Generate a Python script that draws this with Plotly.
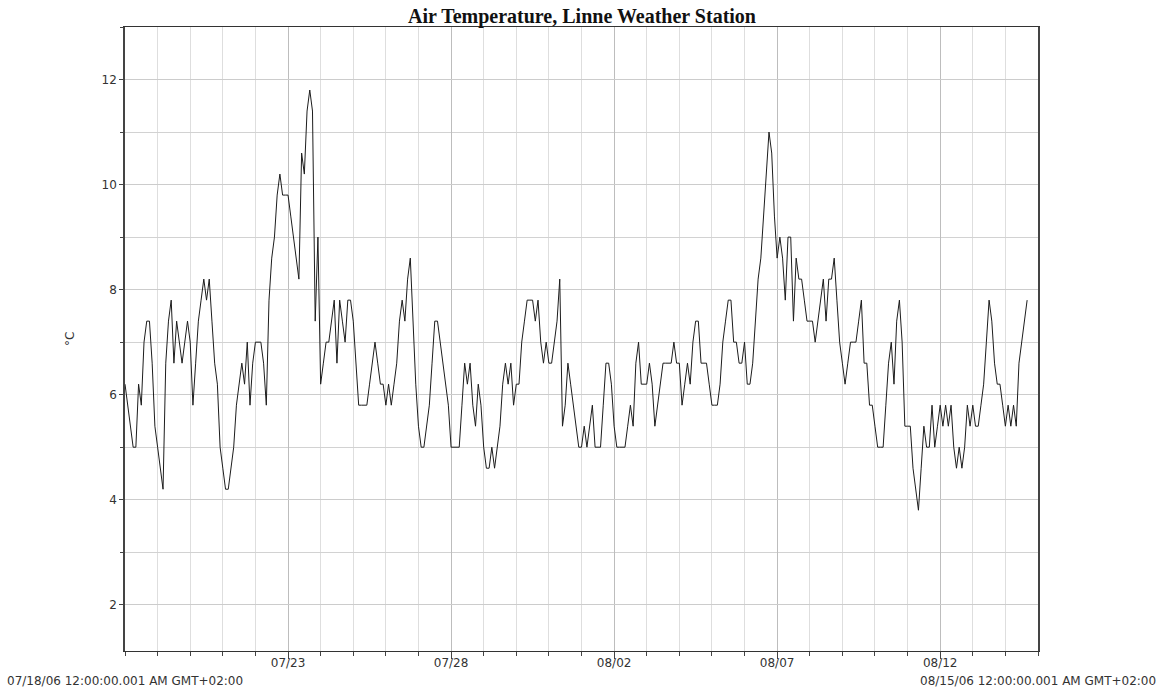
import pandas as pd
import plotly.graph_objects as go

START = "2006-07-18 00:00"
END = "2006-08-15 00:00"
STEP_HOURS = 2

# Air temperature (°C), one reading every two hours, one row per day
week1 = [
    6.2, 5.8, 5.4, 5.0, 5.0, 6.2, 5.8, 7.0, 7.4, 7.4, 6.6, 5.4,      # 07/18
    5.0, 4.6, 4.2, 6.6, 7.4, 7.8, 6.6, 7.4, 7.0, 6.6, 7.0, 7.4,      # 07/19
    7.0, 5.8, 6.6, 7.4, 7.8, 8.2, 7.8, 8.2, 7.4, 6.6, 6.2, 5.0,      # 07/20
    4.6, 4.2, 4.2, 4.6, 5.0, 5.8, 6.2, 6.6, 6.2, 7.0, 5.8, 6.6,      # 07/21
    7.0, 7.0, 7.0, 6.6, 5.8, 7.8, 8.6, 9.0, 9.8, 10.2, 9.8, 9.8,     # 07/22
    9.8, 9.4, 9.0, 8.6, 8.2, 10.6, 10.2, 11.4, 11.8, 11.4, 7.4, 9.0, # 07/23
    6.2, 6.6, 7.0, 7.0, 7.4, 7.8, 6.6, 7.8, 7.4, 7.0, 7.8, 7.8,      # 07/24
]
week2 = [
    7.4, 6.6, 5.8, 5.8, 5.8, 5.8, 6.2, 6.6, 7.0, 6.6, 6.2, 6.2,      # 07/25
    5.8, 6.2, 5.8, 6.2, 6.6, 7.4, 7.8, 7.4, 8.2, 8.6, 7.4, 6.2,      # 07/26
    5.4, 5.0, 5.0, 5.4, 5.8, 6.6, 7.4, 7.4, 7.0, 6.6, 6.2, 5.8,      # 07/27
    5.0, 5.0, 5.0, 5.0, 5.8, 6.6, 6.2, 6.6, 5.8, 5.4, 6.2, 5.8,      # 07/28
    5.0, 4.6, 4.6, 5.0, 4.6, 5.0, 5.4, 6.2, 6.6, 6.2, 6.6, 5.8,      # 07/29
    6.2, 6.2, 7.0, 7.4, 7.8, 7.8, 7.8, 7.4, 7.8, 7.0, 6.6, 7.0,      # 07/30
    6.6, 6.6, 7.0, 7.4, 8.2, 5.4, 5.8, 6.6, 6.2, 5.8, 5.4, 5.0,      # 07/31
]
week3 = [
    5.0, 5.4, 5.0, 5.4, 5.8, 5.0, 5.0, 5.0, 5.8, 6.6, 6.6, 6.2,      # 08/01
    5.4, 5.0, 5.0, 5.0, 5.0, 5.4, 5.8, 5.4, 6.6, 7.0, 6.2, 6.2,      # 08/02
    6.2, 6.6, 6.2, 5.4, 5.8, 6.2, 6.6, 6.6, 6.6, 6.6, 7.0, 6.6,      # 08/03
    6.6, 5.8, 6.2, 6.6, 6.2, 7.0, 7.4, 7.4, 6.6, 6.6, 6.6, 6.2,      # 08/04
    5.8, 5.8, 5.8, 6.2, 7.0, 7.4, 7.8, 7.8, 7.0, 7.0, 6.6, 6.6,      # 08/05
    7.0, 6.2, 6.2, 6.6, 7.4, 8.2, 8.6, 9.4, 10.2, 11.0, 10.6, 9.4,   # 08/06
    8.6, 9.0, 8.6, 7.8, 9.0, 9.0, 7.4, 8.6, 8.2, 8.2, 7.8, 7.4,      # 08/07
]
week4 = [
    7.4, 7.4, 7.0, 7.4, 7.8, 8.2, 7.4, 8.2, 8.2, 8.6, 7.8, 7.0,      # 08/08
    6.6, 6.2, 6.6, 7.0, 7.0, 7.0, 7.4, 7.8, 6.6, 6.6, 5.8, 5.8,      # 08/09
    5.4, 5.0, 5.0, 5.0, 5.8, 6.6, 7.0, 6.2, 7.4, 7.8, 7.0, 5.4,      # 08/10
    5.4, 5.4, 4.6, 4.2, 3.8, 4.6, 5.4, 5.0, 5.0, 5.8, 5.0, 5.4,      # 08/11
    5.8, 5.4, 5.8, 5.4, 5.8, 5.0, 4.6, 5.0, 4.6, 5.0, 5.8, 5.4,      # 08/12
    5.8, 5.4, 5.4, 5.8, 6.2, 7.0, 7.8, 7.4, 6.6, 6.2, 6.2, 5.8,      # 08/13
    5.4, 5.8, 5.4, 5.8, 5.4, 6.6, 7.0, 7.4, 7.8,                     # 08/14
]

label_days = ["2006-07-23", "2006-07-28", "2006-08-02", "2006-08-07", "2006-08-12"]
label_text = ["07/23", "07/28", "08/02", "08/07", "08/12"]
y_major = [2, 4, 6, 8, 10, 12]

start_label = "07/18/06 12:00:00.001 AM GMT+02:00"
end_label = "08/15/06 12:00:00.001 AM GMT+02:00"
title_text = "Air Temperature, Linne Weather Station"

temps = week1 + week2 + week3 + week4
times = pd.date_range(START, periods=len(temps), freq=f"{STEP_HOURS}h")

TICK_FONT = dict(family="DejaVu Sans", size=12, color="#333333")

# plot-area geometry in pixels (used to place free-floating labels)
PLOT_TOP, PLOT_BOTTOM, PLOT_LEFT, PLOT_W = 27, 651, 125, 913
PLOT_H = PLOT_BOTTOM - PLOT_TOP


def paper_y(px):
    return (PLOT_BOTTOM - px) / PLOT_H


fig = go.Figure(
    go.Scatter(
        x=times,
        y=temps,
        mode="lines",
        line=dict(color="#1c1c1c", width=1),
        hoverinfo="x+y",
    )
)

fig.update_layout(
    width=1158,
    height=688,
    margin=dict(l=125, r=120, t=27, b=37),
    paper_bgcolor="white",
    plot_bgcolor="white",
    showlegend=False,
    font=TICK_FONT,
)

fig.update_xaxes(
    type="date",
    range=[START, END],
    tickmode="array",
    tickvals=label_days,
    ticktext=label_text,
    tickfont=TICK_FONT,
    ticks="outside",
    ticklen=7,
    tickcolor="#444444",
    ticklabelstandoff=-6,
    showgrid=True,
    gridcolor="#bdbdbd",
    gridwidth=1,
    minor=dict(
        tick0=START,
        dtick=86400000,
        ticks="outside",
        ticklen=4,
        tickcolor="#444444",
        showgrid=True,
        gridcolor="#dedede",
        gridwidth=1,
    ),
    showline=True,
    linecolor="#333333",
    linewidth=1,
    mirror=True,
    zeroline=False,
)

fig.update_yaxes(
    range=[1.12, 13],
    tickmode="array",
    tickvals=y_major,
    tickfont=TICK_FONT,
    ticks="outside",
    ticklen=4,
    tickcolor="#444444",
    showgrid=True,
    gridcolor="#cccccc",
    gridwidth=1,
    minor=dict(
        dtick=1,
        ticks="outside",
        ticklen=3,
        tickcolor="#444444",
        showgrid=True,
        gridcolor="#d2d2d2",
        gridwidth=1,
    ),
    showline=True,
    linecolor="#444444",
    linewidth=1.5,
    mirror=True,
    zeroline=False,
)

fig.add_annotation(
    text=f"<b>{title_text}</b>",
    xref="paper", yref="paper", x=0.5, y=paper_y(16),
    xanchor="center", yanchor="middle", showarrow=False,
    font=dict(family="Liberation Serif", size=20, color="#111111"),
)
fig.add_annotation(
    text="°C",
    xref="paper", yref="paper", x=(70 - PLOT_LEFT) / PLOT_W, y=0.5,
    xanchor="center", yanchor="middle", textangle=-90, showarrow=False,
    font=TICK_FONT,
)
for label, when in ((start_label, START), (end_label, END)):
    fig.add_annotation(
        text=label,
        xref="x", yref="paper", x=when, y=paper_y(681),
        xanchor="center", yanchor="middle", showarrow=False,
        font=TICK_FONT,
    )

fig.write_html("out.html")
